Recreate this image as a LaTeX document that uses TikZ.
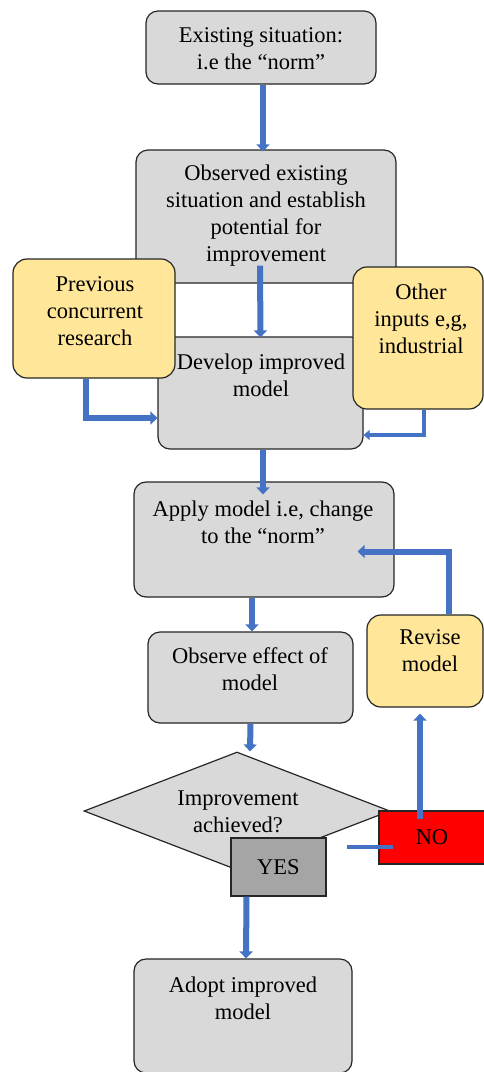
\documentclass[tikz,border=0pt]{standalone}
\usepackage{fontspec}
\setmainfont{Liberation Serif}
\usetikzlibrary{shapes.geometric,arrows.meta,calc}
\definecolor{boxgray}{HTML}{D9D9D9}
\definecolor{boxyellow}{HTML}{FFE699}
\definecolor{arrowblue}{HTML}{4472C4}
\definecolor{yesgray}{HTML}{A5A5A5}
\definecolor{nored}{HTML}{FF0000}
\tikzset{
  gbox/.style={draw=black!85, line width=1.2pt, fill=boxgray, rounded corners=12pt, inner sep=0pt},
  ybox/.style={draw=black!85, line width=1.2pt, fill=boxyellow, rounded corners=14pt, inner sep=0pt},
  txt/.style={align=center, inner sep=0pt, font=\fontsize{22.5}{27}\selectfont},
  arr/.style={draw=arrowblue, line width=6pt, -{Triangle[width=13pt,length=7pt]}},
  arrthin/.style={draw=arrowblue, line width=3.5pt, -{Triangle[width=10pt,length=6pt]}},
  thinline/.style={draw=arrowblue, line width=3.5pt},
}
\begin{document}
\begin{tikzpicture}[x=1pt,y=-1pt]
\useasboundingbox[fill=white] (0,0) rectangle (484,1072);
% boxes
\node[gbox, minimum width=230pt, minimum height=73pt] (b1) at (261,47.5) {};
\node[gbox, minimum width=260pt, minimum height=133pt] (b2) at (266,216.5) {};
\node[gbox, minimum width=205pt, minimum height=112pt] (dev) at (260.5,393) {};
\node[ybox, minimum width=162pt, minimum height=119pt] (prev) at (94,318.5) {};
\node[ybox, minimum width=130pt, minimum height=142pt] (other) at (418,338) {};
\node[gbox, minimum width=260pt, minimum height=115pt] (apply) at (264,539.5) {};
\node[gbox, minimum width=205pt, minimum height=91pt] (obs) at (250.5,677.5) {};
\node[ybox, minimum width=116pt, minimum height=92pt] (rev) at (425,661) {};
\node[draw=black!85, line width=1.2pt, fill=boxgray, diamond, inner sep=0pt, minimum width=306pt, minimum height=118pt] (dia) at (237,811) {};
\node[draw=black!85, line width=1.2pt, fill=yesgray, inner sep=0pt, minimum width=95pt, minimum height=58pt, txt] (yes) at (278.5,867) {YES};
\node[draw=black!85, line width=1.2pt, fill=nored, inner sep=0pt, minimum width=106pt, minimum height=53pt, txt] (no) at (432,837.5) {NO};
\node[gbox, minimum width=218pt, minimum height=114pt] (adopt) at (243,1016) {};
% texts
\node[txt] (t1) at (261,48.5) {Existing situation:\\i.e the “norm”};
\node[txt] (t2) at (266,216) {Observed existing\\situation and establish\\potential for\\improvement};
\node[txt] (tprev) at (95,311) {Previous\\concurrent\\research};
\node[txt] (tother) at (421,319) {Other\\inputs e,g,\\industrial};
\node[txt] (tdev) at (261,375.5) {Develop improved\\model};
\node[txt] (tapp) at (263,522) {Apply model i.e, change\\to the “norm”};
\node[txt] (tobs) at (250,669) {Observe effect of\\model};
\node[txt] (trev) at (430,651) {Revise\\model};
\node[txt] (tdia) at (238,812) {Improvement\\achieved?};
\node[txt] (tadopt) at (243,998) {Adopt improved\\model};
% connectors
\draw[arr] ($(b1.south)+(2,0)$) -- ($(b2.north)+(-3,2)$);
\draw[arr] ($(b2.south)+(-6,-18)$) -- ($(dev.north)+(0,1)$);
\draw[arr] ($(prev.south)+(-8,0)$) |- ($(dev.west)+(0,25)$);
\draw[arrthin] ($(other.south)+(6,0)$) |- ($(dev.east)+(0,42)$);
\draw[arr] ($(dev.south)+(2.5,0)$) -- ($(apply.north)+(-1,13)$);
\draw[arr] ($(rev.north)+(24,0)$) |- ($(apply.east)+(-37,12)$);
\draw[arr] ($(apply.south)+(-12,0)$) -- ($(obs.north)+(1.5,0)$);
\draw[arr] (obs.south) -- ($(dia.north)+(13,0)$);
\draw[arr] ($(no.north)+(-12,9)$) -- ($(rev.south)+(-5,6)$);
\coordinate (nol) at (347,847);
\draw[thinline] (nol) -- ($(no.west)+(15,9.5)$);
\draw[arr] ($(yes.south)+(-32,0)$) -- ($(adopt.north)+(3,0)$);
\end{tikzpicture}
\end{document}
